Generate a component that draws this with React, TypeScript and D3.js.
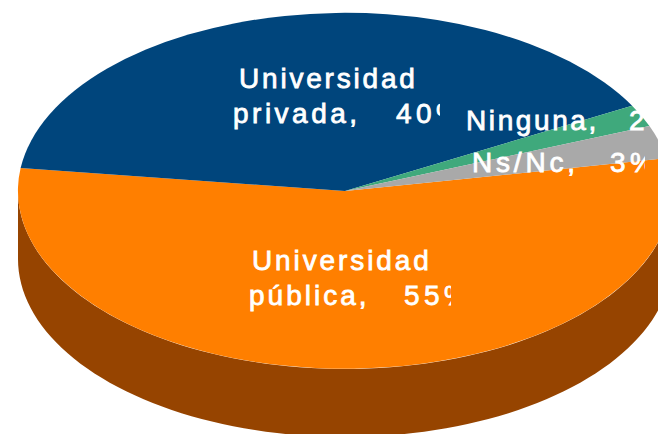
import * as React from 'react';
import * as d3 from 'd3';

const categories = ['Universidad pública', 'Universidad privada', 'Ninguna', 'Ns/Nc'];
const values = [55, 40, 2, 3];
const colors = ['#ff7f00', '#00457c', '#3fa97c', '#a9a9a9'];
const sideColor = '#964400';

const labelLines = [
  ['Universidad', 'pública,'],
  ['Universidad', 'privada,'],
  ['Ninguna,'],
  ['Ns/Nc,'],
];
const labelX = [[252, 249], [239, 233], [466], [472]];
const labelY = [[270, 305], [88, 123], [130], [172]];
const labelSpacing = [[2.9, 3], [2.8, 3.5], [2.6], [3.8]];
const percentText = ['55%', '40%', '2%', '3%'];
const percentX = [404, 396, 629, 610];
const labelClip = [451, 440, 645, 645];

const width = 658;
const height = 434;
const cx = 345;
const cy = 191;
const rx = 327;
const ry = 178;
const depth = 68;
const startAngle = (79.4 * Math.PI) / 180;

export default function App() {
  const pie = d3.pie<number>().sort(null).startAngle(startAngle).endAngle(startAngle + 2 * Math.PI);
  const slices = pie(values);
  const arc = d3.arc<d3.PieArcDatum<number>>().innerRadius(0).outerRadius(1);

  // front wall of the disc, between the two visible extremes of the ellipse
  const wallAngles = d3.range(90, 271, 2).map(d => (d * Math.PI) / 180);
  const wall = d3.area<number>()
    .x(a => cx + rx * Math.sin(a))
    .y0(a => cy - ry * Math.cos(a))
    .y1(a => cy - ry * Math.cos(a) + depth);

  const textProps = {
    fill: '#fff',
    stroke: '#fff',
    strokeWidth: 0.8,
    fontFamily: 'Liberation Sans',
    fontSize: 28,
  };

  return (
    <svg width={width} height={height} style={{ position: 'absolute', left: 0, top: 0 }}>
      <defs>
        {labelClip.map((c, i) => (
          <clipPath key={i} id={`label-clip-${i}`}>
            <rect x={0} y={0} width={c} height={height} />
          </clipPath>
        ))}
      </defs>
      <path d={wall(wallAngles) ?? ''} fill={sideColor} />
      <g transform={`translate(${cx},${cy}) scale(${rx},${ry})`}>
        {slices.map((s, i) => (
          <path key={categories[i]} d={arc(s) ?? ''} fill={colors[i]} />
        ))}
      </g>
      {labelLines.map((lines, i) => (
        <g key={i} clipPath={`url(#label-clip-${i})`}>
          {lines.map((line, j) => (
            <text key={j} x={labelX[i][j]} y={labelY[i][j]} letterSpacing={labelSpacing[i][j]} {...textProps}>
              {line}
            </text>
          ))}
          <text x={percentX[i]} y={labelY[i][lines.length - 1]} letterSpacing={4.4} {...textProps}>
            {percentText[i]}
          </text>
        </g>
      ))}
    </svg>
  );
}
